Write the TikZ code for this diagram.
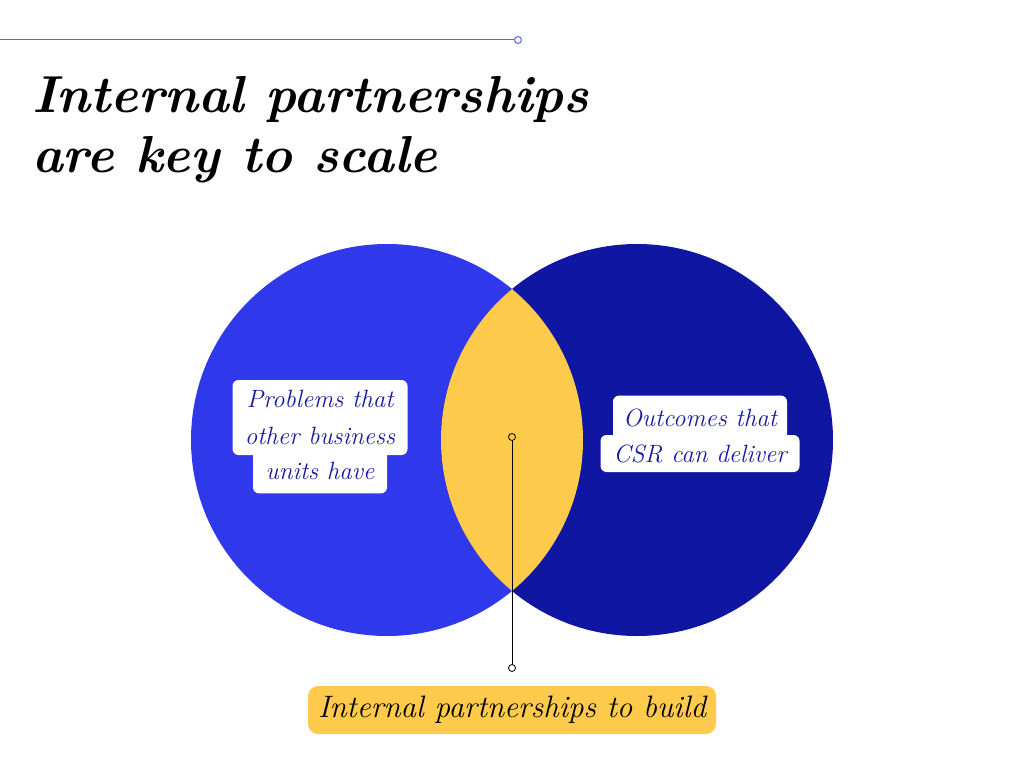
\documentclass[tikz,border=0pt]{standalone}
\usepackage{xcolor}
\usetikzlibrary{positioning}

\definecolor{azulclaro}{RGB}{47,56,234}
\definecolor{azuloscuro}{RGB}{15,22,162}
\definecolor{amarillo}{RGB}{254,202,76}
\definecolor{azullinea}{RGB}{92,96,240}
\definecolor{azultexto}{RGB}{24,28,160}

\begin{document}
\begin{tikzpicture}[x=1pt, y=-1pt,
  regla/.style={draw=azullinea, line width=1pt},
  cuadro/.style={fill=white, rounded corners=6pt, inner xsep=0pt, inner ysep=0pt,
    text=azultexto, align=center, font=\fontsize{25}{37}\selectfont\itshape},
  etiqueta/.style={fill=amarillo, rounded corners=10pt, inner sep=0pt,
    minimum width=408pt, minimum height=48pt, font=\fontsize{31}{36}\selectfont\itshape}]
  \useasboundingbox (0,0) rectangle (1024,768);

  % Linea superior
  \coordinate (inicio) at (0,40);
  \coordinate (fin) at (518,40);
  \draw[regla] (inicio) -- ([xshift=-3.5pt]fin);
  \draw[regla, fill=white] (fin) circle (3.5pt);

  % Titulo
  \node[anchor=base west, inner sep=0pt, font=\fontsize{52}{60}\selectfont\bfseries\itshape]
    (titulo1) at (32,112) {Internal partnerships};
  \node[anchor=base west, inner sep=0pt, font=\fontsize{52}{60}\selectfont\bfseries\itshape]
    (titulo2) at (32,172) {are key to scale};

  % Circulos
  \coordinate (izq) at (387,440);
  \coordinate (der) at (637,440);
  \fill[azulclaro] (izq) circle (196pt);
  \fill[azuloscuro] (der) circle (196pt);

  % Interseccion
  \begin{scope}
    \clip (izq) circle (196pt);
    \fill[amarillo] (der) circle (196pt);
  \end{scope}

  % Texto izquierdo
  \node[cuadro, minimum width=175pt, minimum height=75pt] (problemas) at (320,417.5)
    {Problems that\\other business};
  \node[cuadro, minimum width=134pt, minimum height=44pt, below=-6pt of problemas]
    (unidades) {units have};

  % Texto derecho
  \node[cuadro, minimum width=199pt, minimum height=37pt] (csr) at (700,453.5)
    {CSR can deliver};
  \node[cuadro, minimum width=174pt, minimum height=45pt, above=-6pt of csr]
    (resultados) {Outcomes that};

  % Etiqueta inferior
  \node[etiqueta] (socios) at (512,710) {Internal partnerships to build};

  % Conector
  \coordinate (centro) at (512,437);
  \coordinate (base) at (512,668);
  \draw[line width=1pt] (centro) -- (base);
  \filldraw[line width=0.8pt, fill=amarillo] (centro) circle (3.5pt);
  \filldraw[line width=0.8pt, fill=white] (base) circle (3.5pt);
\end{tikzpicture}
\end{document}
